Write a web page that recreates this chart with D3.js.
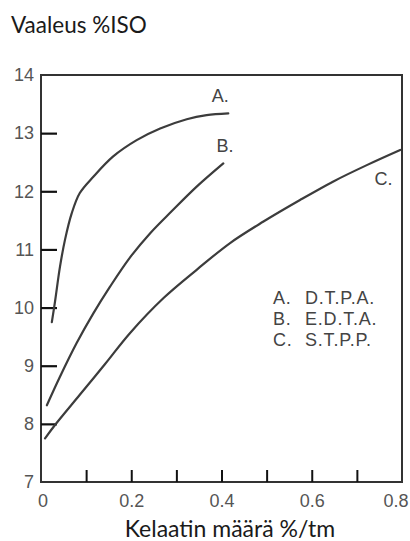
<!DOCTYPE html>
<html>
<head>
<meta charset="utf-8">
<script src="https://cdn.jsdelivr.net/npm/d3@7"></script>
<style>
  html, body { margin: 0; padding: 0; background: #fff; }
  svg { display: block; }
</style>
</head>
<body>
<svg id="chart" width="410" height="541"></svg>
<script>
// ---- data ----
const xTicks = [0, 0.1, 0.2, 0.3, 0.4, 0.5, 0.6, 0.7, 0.8];
const xTickLabels = ["0", "", "0.2", "", "0.4", "", "0.6", "", "0.8"];
const yTicks = [7, 8, 9, 10, 11, 12, 13, 14];

const seriesNames = ["A.", "B.", "C."];
const legendKeys = ["A.", "B.", "C."];
const legendNames = ["D.T.P.A.", "E.D.T.A.", "S.T.P.P."];

const aX = [0.024, 0.031, 0.042, 0.053, 0.068, 0.086, 0.116, 0.160, 0.212, 0.264, 0.323, 0.367, 0.415];
const aY = [9.75, 10.1, 10.7, 11.16, 11.62, 11.97, 12.25, 12.6, 12.88, 13.08, 13.24, 13.31, 13.34];

const bX = [0.013, 0.042, 0.079, 0.116, 0.153, 0.197, 0.242, 0.290, 0.345, 0.404];
const bY = [8.32, 8.81, 9.39, 9.90, 10.36, 10.86, 11.28, 11.66, 12.08, 12.48];

const cX = [0.009, 0.031, 0.086, 0.142, 0.197, 0.271, 0.345, 0.419, 0.493, 0.574, 0.648, 0.722, 0.796];
const cY = [7.75, 7.98, 8.50, 9.03, 9.56, 10.16, 10.65, 11.11, 11.48, 11.85, 12.17, 12.45, 12.71];

// label anchor positions in data units (x centre, y baseline)
const labelX = [0.397, 0.408, 0.759];
const labelY = [13.54, 12.67, 12.11];

const yTitle = "Vaaleus %ISO";
const xTitle = "Kelaatin määrä %/tm";

(function () {
const svg = d3.select("#chart");
const mLeft = 41, mRight = 402, mTop = 75, mBottom = 482;

const x = d3.scaleLinear().domain([0, 0.8]).range([mLeft, mRight]);
const y = d3.scaleLinear().domain([7, 14]).range([mBottom, mTop]);

const tickFont = "'Liberation Sans', Arial, Helvetica, sans-serif";
const titleFont = "Lato, 'Open Sans', sans-serif";

// frame
svg.append("rect")
  .attr("x", mLeft).attr("y", mTop)
  .attr("width", mRight - mLeft).attr("height", mBottom - mTop)
  .attr("fill", "none").attr("stroke", "#333").attr("stroke-width", 2);

// y axis
const gy = svg.append("g")
  .attr("transform", `translate(${mLeft},0)`)
  .call(d3.axisLeft(y).tickValues(yTicks).tickFormat(d3.format("d"))
        .tickSizeInner(-16).tickSizeOuter(0).tickPadding(7));
gy.select(".domain").remove();
gy.selectAll(".tick line")
  .attr("stroke", "#111").attr("stroke-width", 2.2)
  .filter(d => d === 7 || d === 14).remove();
gy.selectAll(".tick text")
  .attr("font-family", tickFont).attr("font-size", 18).attr("fill", "#555");

// x axis
const gx = svg.append("g")
  .attr("transform", `translate(0,${mBottom})`)
  .call(d3.axisBottom(x).tickValues(xTicks).tickFormat((d, i) => xTickLabels[i])
        .tickSizeInner(-12).tickSizeOuter(0).tickPadding(12));
gx.select(".domain").remove();
gx.selectAll(".tick line")
  .attr("stroke", "#111").attr("stroke-width", 2)
  .filter(d => d === 0 || d === 0.8).remove();
gx.selectAll(".tick text")
  .attr("font-family", tickFont).attr("font-size", 18).attr("fill", "#555");
gx.selectAll(".tick text").filter(d => d === 0.8)
  .attr("text-anchor", "end").attr("x", 6);
gx.selectAll(".tick text").filter(d => d === 0)
  .attr("x", 1.5);

// curves
const line = d3.line()
  .x(d => x(d[0])).y(d => y(d[1]))
  .curve(d3.curveCatmullRom.alpha(0.5));

const series = [d3.zip(aX, aY), d3.zip(bX, bY), d3.zip(cX, cY)];
svg.append("g").selectAll("path")
  .data(series).join("path")
  .attr("d", line)
  .attr("fill", "none").attr("stroke", "#3c3c3c")
  .attr("stroke-width", 2.2).attr("stroke-linecap", "round");

// curve labels
svg.append("g").selectAll("text")
  .data(seriesNames).join("text")
  .attr("x", (d, i) => x(labelX[i]))
  .attr("y", (d, i) => y(labelY[i]))
  .attr("text-anchor", "middle")
  .attr("font-family", tickFont).attr("font-size", 18).attr("fill", "#444")
  .text(d => d);

// legend
const lg = svg.append("g").attr("font-family", tickFont)
  .attr("font-size", 18).attr("fill", "#444").attr("letter-spacing", 0.8);
legendKeys.forEach((k, i) => {
  const by = 304 + i * 20.8;
  lg.append("text").attr("x", 273).attr("y", by).text(k);
  lg.append("text").attr("x", 305).attr("y", by).text(legendNames[i]);
});

// titles
svg.append("text")
  .attr("x", 11).attr("y", 33)
  .attr("font-family", titleFont).attr("font-size", 22.5).attr("fill", "#1a1a1a")
  .text(yTitle);

svg.append("text")
  .attr("x", 230).attr("y", 537)
  .attr("text-anchor", "middle")
  .attr("font-family", titleFont).attr("font-size", 23).attr("fill", "#1a1a1a")
  .text(xTitle);
})();
</script>
</body>
</html>
